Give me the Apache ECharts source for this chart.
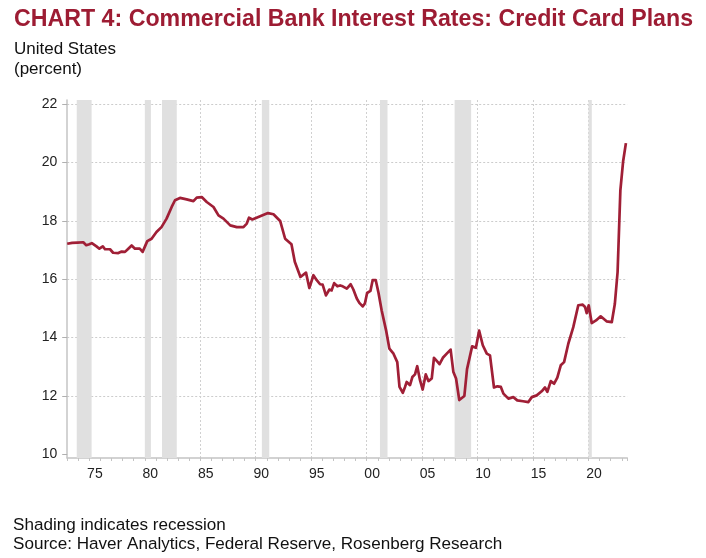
<!DOCTYPE html>
<html>
<head>
<meta charset="utf-8">
<script src="https://cdn.jsdelivr.net/npm/echarts@6/dist/echarts.min.js"></script>
<style>
  html, body { margin: 0; padding: 0; background: #ffffff; }
  #chart { width: 706px; height: 558px; }
</style>
</head>
<body>
<div id="chart"></div>
<script>
// ---- data ----
const years = [
  1973.0, 1973.45, 1973.95, 1974.45, 1974.72, 1975.0, 1975.22, 1975.64, 1975.9, 1976.21,
  1976.41, 1976.86, 1977.14, 1977.61, 1977.91, 1978.21, 1978.51, 1978.81, 1979.11, 1979.54,
  1979.8, 1980.22, 1980.61, 1981.05, 1981.5, 1981.96, 1982.42, 1982.72, 1983.17, 1983.77,
  1984.38, 1984.68, 1985.13, 1985.58, 1986.19, 1986.64, 1987.09, 1987.7, 1988.29, 1988.89,
  1989.19, 1989.39, 1989.69, 1990.4, 1991.1, 1991.6, 1992.2, 1992.65, 1993.22, 1993.52,
  1994.03, 1994.53, 1994.83, 1995.2, 1995.5, 1995.8, 1996.03, 1996.33, 1996.64, 1996.84,
  1997.07, 1997.36, 1997.61, 1997.84, 1998.21, 1998.56, 1998.8, 1999.11, 1999.34, 1999.64,
  1999.84, 2000.04, 2000.34, 2000.54, 2000.82, 2001.05, 2001.35, 2001.75, 2002.05, 2002.42,
  2002.76, 2002.96, 2003.26, 2003.46, 2003.61, 2003.91, 2004.12, 2004.36, 2004.56, 2004.81,
  2005.05, 2005.33, 2005.57, 2005.87, 2006.07, 2006.32, 2006.57, 2006.87, 2007.22, 2007.57,
  2007.82, 2008.06, 2008.35, 2008.81, 2009.05, 2009.51, 2009.85, 2010.14, 2010.47, 2010.83,
  2011.12, 2011.48, 2011.79, 2012.1, 2012.33, 2012.78, 2013.22, 2013.58, 2014.1, 2014.58,
  2014.89, 2015.33, 2015.78, 2016.08, 2016.29, 2016.6, 2016.9, 2017.19, 2017.5, 2017.8,
  2018.18, 2018.63, 2019.08, 2019.48, 2019.69, 2019.84, 2020.02, 2020.29, 2020.68, 2021.1,
  2021.63, 2022.1, 2022.375, 2022.625, 2022.875, 2023.125, 2023.375
];
const rates = [
  17.22, 17.25, 17.26, 17.27, 17.17, 17.20, 17.24, 17.13, 17.05, 17.13,
  17.03, 17.03, 16.91, 16.90, 16.95, 16.94, 17.05, 17.16, 17.05, 17.05,
  16.94, 17.31, 17.39, 17.62, 17.79, 18.08, 18.48, 18.71, 18.79, 18.74,
  18.68, 18.80, 18.82, 18.65, 18.48, 18.19, 18.08, 17.85, 17.79, 17.79,
  17.91, 18.11, 18.05, 18.16, 18.27, 18.23, 18.00, 17.39, 17.20, 16.60,
  16.08, 16.23, 15.70, 16.14, 15.97, 15.83, 15.82, 15.45, 15.65, 15.62,
  15.87, 15.76, 15.79, 15.76, 15.68, 15.83, 15.65, 15.34, 15.19, 15.07,
  15.17, 15.53, 15.60, 15.97, 15.97, 15.57, 14.94, 14.25, 13.62, 13.45,
  13.16, 12.31, 12.11, 12.31, 12.48, 12.37, 12.65, 12.74, 13.02, 12.54,
  12.22, 12.74, 12.51, 12.60, 13.31, 13.20, 13.09, 13.31, 13.45, 13.59,
  12.82, 12.60, 11.86, 12.00, 12.92, 13.70, 13.65, 14.24, 13.74, 13.45,
  13.39, 12.29, 12.33, 12.31, 12.08, 11.91, 11.96, 11.85, 11.82, 11.79,
  11.96, 12.02, 12.16, 12.29, 12.14, 12.51, 12.42, 12.63, 13.05, 13.16,
  13.79, 14.36, 15.11, 15.13, 15.05, 14.84, 15.11, 14.50, 14.59, 14.73,
  14.56, 14.53, 15.15, 16.25, 19.05, 20.05, 20.67
];
const recessionStart = [1973.86, 1980.0, 1981.55, 1990.55, 2001.2, 2007.93, 2020.0];
const recessionEnd   = [1975.2, 1980.55, 1982.88, 1991.22, 2001.88, 2009.42, 2020.3];
const yTicks = [10, 12, 14, 16, 18, 20, 22];

const titleText = 'CHART 4: Commercial Bank Interest Rates: Credit Card Plans';
const subtitleLines = ['United States', '(percent)'];
const footerLines = ['Shading indicates recession', 'Source: Haver Analytics, Federal Reserve, Rosenberg Research'];

// ---- chart ----
const FONT = '"Liberation Sans", Arial, sans-serif';
const chart = echarts.init(document.getElementById('chart'), null, { renderer: 'canvas' });

const gridLeft = 67.2, gridRight = 78.7;
const xMin = 1973, xMax = 2023.5;

const ySplitColors = yTicks.map(v => v === 10 ? 'rgba(0,0,0,0)' : '#cccccc');
const xSplitColors = ['rgba(0,0,0,0)', 'rgba(0,0,0,0)', '#d0d0d0', 'rgba(0,0,0,0)', 'rgba(0,0,0,0)'];

const option = {
  animation: false,
  backgroundColor: '#ffffff',
  textStyle: { fontFamily: FONT },
  grid: [
    { left: gridLeft, right: gridRight, top: 104.3, bottom: 103.7 },
    { left: gridLeft, right: gridRight, top: 100, bottom: 100 }
  ],
  xAxis: [
    { type: 'value', gridIndex: 0, min: xMin, max: xMax, show: false },
    {
      type: 'value', gridIndex: 1, min: xMin, max: xMax, interval: 1,
      axisLine: { show: true, lineStyle: { color: '#c4c4c4', width: 1.5 } },
      axisTick: { show: true, length: 3, lineStyle: { color: '#c4c4c4', width: 1 } },
      axisLabel: {
        margin: 9,
        color: '#222222',
        fontSize: 14,
        fontFamily: FONT,
        formatter: v => (Math.abs(v - Math.round(v)) < 1e-6 && Math.round(v) % 5 === 0)
          ? '{a|' + String(Math.round(v) % 100).padStart(2, '0') + '}' : '',
        rich: { a: { padding: [0, 0, 0, 11], fontSize: 14, color: '#222222', fontFamily: FONT } }
      },
      splitLine: { show: true, lineStyle: { color: xSplitColors, type: [2, 2], width: 1 } }
    }
  ],
  yAxis: [
    {
      type: 'value', gridIndex: 0, min: 10, max: 22, interval: 2,
      axisLine: { show: false },
      axisTick: { show: true, length: 5, lineStyle: { color: '#b0b0b0', width: 1 } },
      axisLabel: { margin: 10, color: '#222222', fontSize: 14, fontFamily: FONT },
      splitLine: { show: true, lineStyle: { color: ySplitColors, type: [2, 2], width: 1 } }
    },
    {
      type: 'value', gridIndex: 1, min: 0, max: 1,
      axisLine: { show: true, lineStyle: { color: '#c4c4c4', width: 1.5 } },
      axisTick: { show: false }, axisLabel: { show: false }, splitLine: { show: false }
    }
  ],
  series: [
    {
      type: 'custom',
      xAxisIndex: 1, yAxisIndex: 1,
      z: 1,
      silent: true,
      data: recessionStart.map((s, i) => [s, recessionEnd[i]]),
      encode: { x: [0, 1] },
      renderItem: (params, api) => {
        const a = api.coord([api.value(0), 1]);
        const b = api.coord([api.value(1), 0]);
        return {
          type: 'rect',
          shape: { x: a[0], y: a[1], width: b[0] - a[0], height: b[1] - a[1] },
          style: { fill: '#e0e0e0' }
        };
      }
    },
    {
      type: 'line',
      xAxisIndex: 0, yAxisIndex: 0,
      z: 5,
      data: years.map((y, i) => [y, rates[i]]),
      symbol: 'none',
      clip: false,
      lineStyle: { color: '#a01f36', width: 2.7, join: 'round' }
    }
  ],
  graphic: [
    {
      type: 'text', left: 14, top: 8,
      style: { text: titleText, font: 'bold 23.2px ' + FONT, fill: '#9d1c33' }
    },
    {
      type: 'text', left: 14, top: 39,
      style: { text: subtitleLines.join('\n'), font: '17px ' + FONT, lineHeight: 20, fill: '#111111' }
    },
    {
      type: 'text', left: 13, top: 516,
      style: { text: footerLines.join('\n'), font: '17.1px ' + FONT, lineHeight: 19, fill: '#111111' }
    }
  ]
};
chart.setOption(option);
</script>
</body>
</html>
